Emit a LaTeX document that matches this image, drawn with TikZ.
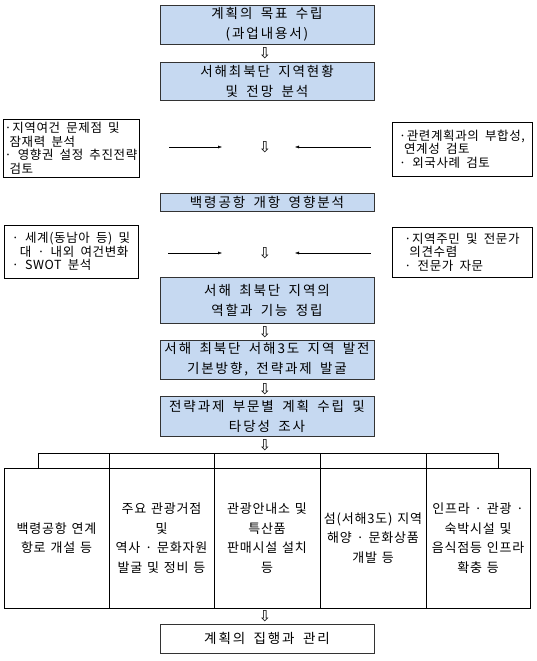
\documentclass[tikz,border=0pt]{standalone}
\usepackage{fontspec}
\setmainfont{Noto Sans CJK KR}
\newfontfamily\boxfont[LetterSpace=14,WordSpace=1.7]{Noto Sans CJK KR}
\newfontfamily\sidefont[LetterSpace=5,WordSpace=1.8]{Noto Sans CJK KR}
\newfontfamily\cellfont[LetterSpace=6,WordSpace=1.3]{Noto Sans CJK KR}
\newfontfamily\arrowfont{DejaVu Sans}
\usetikzlibrary{arrows.meta,positioning}
\definecolor{stageblue}{HTML}{C6D9F1}

\begin{document}
\begin{tikzpicture}[x=1pt,y=-1pt,
    mainbox/.style={draw=black!80,fill=stageblue,minimum width=214pt,align=center,inner sep=0pt,
      font=\boxfont\fontsize{13.5}{20}\selectfont},
    lastbox/.style={mainbox,fill=white},
    sidebox/.style={draw,align=left,inner sep=1.5pt,
      font=\sidefont\fontsize{12.5}{13.5}\selectfont},
    cellbox/.style={draw,minimum height=140pt,align=center,inner sep=0pt,
      font=\cellfont\fontsize{13}{19.5}\selectfont},
    nextstep/.style={inner sep=0pt,font=\arrowfont\fontsize{15}{15}\selectfont},
    feed/.style={-{Latex[length=4pt,width=3pt]}}]
  \useasboundingbox (0,0) rectangle (537,661);
  % main flow
  \node[mainbox,minimum height=39pt] (goal) at (267,24.5) {계획의 목표 수립\\(과업내용서)};
  \node[nextstep] (dn1) at (265,53) {⇩};
  \node[mainbox,minimum height=38pt] (status) at (267,81) {서해최북단 지역현황\\및 전망 분석};
  \node[nextstep] (dn2) at (265,147) {⇩};
  \node[mainbox,minimum height=18pt] (airport) at (267,202) {백령공항 개항 영향분석};
  \node[nextstep] (dn3) at (265,253) {⇩};
  \node[mainbox,minimum height=46pt] (role) at (267,300) {서해 최북단 지역의\\역할과 기능 정립};
  \node[nextstep] (dn4) at (265,332) {⇩};
  \node[mainbox,minimum height=39pt] (basic) at (267,359.5) {서해 최북단 서해3도 지역 발전\\기본방향, 전략과제 발굴};
  \node[nextstep] (dn5) at (265,389) {⇩};
  \node[mainbox,minimum height=40pt] (plan) at (267,416) {전략과제 부문별 계획 수립 및\\타당성 조사};
  \node[nextstep] (dn6) at (265,445) {⇩};
  % side inputs
  \node[sidebox,minimum width=134pt,minimum height=58pt] (cond) at (71,148)
    {·지역여건 문제점 및\\\hspace{5pt}잠재력 분석\\· 영향권 설정 추진전략\\\hspace{5pt}검토};
  \node[sidebox,minimum width=140pt,minimum height=54pt] (link) at (462,149)
    {·관련계획과의 부합성,\\\hspace{5pt}연계성 검토\\· 외국사례 검토};
  \node[sidebox,minimum width=134pt,minimum height=53pt] (world) at (71,251.5)
    {· 세계(동남아 등) 및\\\hspace{8pt}대 · 내외 여건변화\\· SWOT 분석};
  \node[sidebox,minimum width=140pt,minimum height=50pt] (expert) at (462,252)
    {·지역주민 및 전문가\\\hspace{5pt}의견수렴\\· 전문가 자문};
  \draw[feed,shorten <=30pt,shorten >=43pt] (cond.east |- dn2) -- (dn2.center);
  \draw[feed,shorten <=21pt,shorten >=30pt] (link.west |- dn2) -- (dn2.center);
  \draw[feed,shorten <=30pt,shorten >=43pt] (world.east |- dn3) -- (dn3.center);
  \draw[feed,shorten <=21pt,shorten >=30pt] (expert.west |- dn3) -- (dn3.center);
  % sector tasks
  \node[cellbox,minimum width=105pt] (cell1) at (56.5,538) {백령공항 연계\\항로 개설 등};
  \node[cellbox,minimum width=105pt] (cell2) at (161.5,538) {주요 관광거점\\및\\역사 · 문화자원\\발굴 및 정비 등};
  \node[cellbox,minimum width=106pt] (cell3) at (267,538) {관광안내소 및\\특산품\\판매시설 설치\\등};
  \node[cellbox,minimum width=106pt] (cell4) at (373,538) {섬(서해3도) 지역\\해양 · 문화상품\\개발 등};
  \node[cellbox,minimum width=104pt] (cell5) at (478,538) {인프라 · 관광 ·\\숙박시설 및\\음식점등 인프라\\확충 등};
  \coordinate (busL) at (38,453);
  \coordinate (busR) at (498,453);
  \draw (cell1.north -| busL) -- (busL) -- (busR) -- (cell5.north -| busR);
  \foreach \c in {1,...,4}
    \draw (cell\c.north east) -- (cell\c.north east |- busL);
  \node[nextstep] (dn7) at (265,616) {⇩};
  \node[lastbox,minimum height=29pt] (exec) at (267,638.5) {계획의 집행과 관리};
\end{tikzpicture}
\end{document}
